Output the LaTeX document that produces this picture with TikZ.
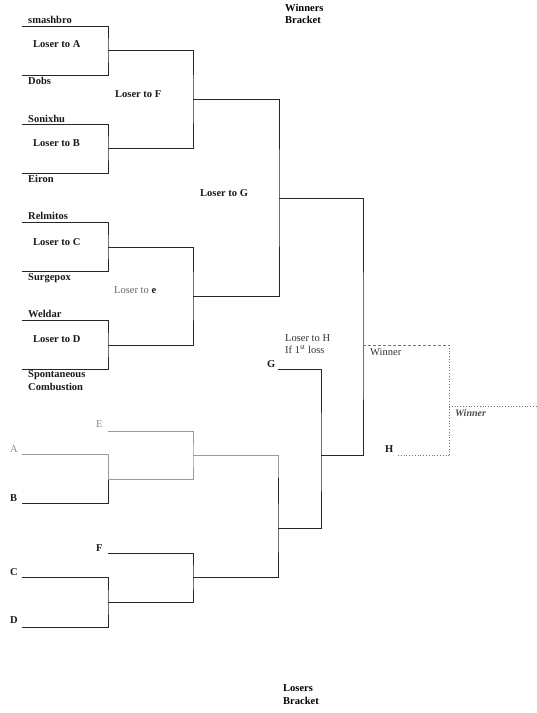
\documentclass[tikz,border=0pt]{standalone}
\usepackage{fontspec}
\setmainfont{Liberation Serif}
\begin{document}
\begin{tikzpicture}[x=1pt,y=-1pt,
  lbl/.style={font=\bfseries\fontsize{10.5}{12}\selectfont, inner sep=0pt, anchor=base west, text=black!90},
  lblr/.style={font=\fontsize{10.5}{12}\selectfont, inner sep=0pt, anchor=base west, text=black!80},
  lblg/.style={font=\fontsize{10.5}{12}\selectfont, inner sep=0pt, anchor=base west, text=black!45},
  title/.style={font=\bfseries\fontsize{10.5}{12}\selectfont, inner sep=0pt, align=left, anchor=north west},
  ln/.style={line width=0.85pt, draw=black!85},
  gl/.style={line width=0.8pt, draw=black!40},
  dl/.style={line width=0.8pt, draw=black!55, dotted},
  dsh/.style={line width=0.8pt, draw=black!55, densely dashed}]
\useasboundingbox (0,0) rectangle (537,713);
\fill[white] (0,0) rectangle (537,713);

% titles
\node[title] (wt) at (285,4) {Winners\\Bracket};
\node[title, font=\bfseries\fontsize{10.5}{13}\selectfont] (lt) at (283,684) {Losers\\Bracket};

% ---------- winners bracket coordinates ----------
\coordinate (p1) at (22,26);  \coordinate (p2) at (22,75);
\coordinate (p3) at (22,124); \coordinate (p4) at (22,173);
\coordinate (p5) at (22,222); \coordinate (p6) at (22,271);
\coordinate (p7) at (22,320); \coordinate (p8) at (22,369);
\coordinate (j1) at (108,50);  \coordinate (j2) at (108,148);
\coordinate (j3) at (108,247); \coordinate (j4) at (108,345);
\coordinate (jF) at (193,99);  \coordinate (jE) at (193,296);
\coordinate (jG) at (279,198);
\coordinate (jW) at (363,345);

\draw[ln] (p1) -| (j1) |- (p2);
\draw[ln] (p3) -| (j2) |- (p4);
\draw[ln] (p5) -| (j3) |- (p6);
\draw[ln] (p7) -| (j4) |- (p8);
\draw[ln] (j1) -| (jF) |- (j2);
\draw[ln] (j3) -| (jE) |- (j4);
\draw[ln] (jF) -| (jG) |- (jE);

% winners labels
\node[lbl] (n1) at (28,23) {smashbro};
\node[lbl] (la) at (33,47) {Loser to A};
\node[lbl] (n2) at (28,84) {Dobs};
\node[lbl] (lf) at (115,97) {Loser to F};
\node[lbl] (n3) at (28,122) {Sonixhu};
\node[lbl] (lb) at (33,146) {Loser to B};
\node[lbl] (n4) at (28,182) {Eiron};
\node[lbl] (lg) at (200,196) {Loser to G};
\node[lbl] (n5) at (28,219) {Relmitos};
\node[lbl] (lc) at (33,245) {Loser to C};
\node[lbl] (n6) at (28,280) {Surgepox};
\node[lbl] (le) at (114,293) {{\mdseries\color{black!60}Loser to} e};
\node[lbl] (n7) at (28,317) {Weldar};
\node[lbl] (ld) at (33,342) {Loser to D};
\node[lbl, font=\bfseries\fontsize{10.5}{13}\selectfont, align=left, anchor=north west] (n8) at (28,370) {Spontaneous\\Combustion};

% ---------- losers bracket ----------
\coordinate (pA) at (22,454); \coordinate (pB) at (22,503);
\coordinate (pC) at (22,577); \coordinate (pD) at (22,627);
\coordinate (pE) at (108,431); \coordinate (pF) at (108,553);
\coordinate (k1) at (108,479); \coordinate (k2) at (108,602);
\coordinate (kE) at (193,455); \coordinate (kF) at (193,577);
\coordinate (k3t) at (278,478); \coordinate (k3) at (278,528);
\coordinate (pG) at (278,369); \coordinate (kH) at (321,455);

\draw[gl] (pA) -| (k1);
\draw[ln] (k1) |- (pB);
\draw[gl] (pE) -| (kE) |- (k1);
\draw[ln] (pC) -| (k2) |- (pD);
\draw[ln] (pF) -| (kF) |- (k2);
\draw[gl] (kE) -| (k3t);
\draw[ln] (k3t) -- (k3) |- (kF);
\draw[ln] (pG) -| (kH) |- (k3);

% final
\draw[ln] (jG) -| (jW) |- (kH);
\coordinate (dW) at (449,345); \coordinate (dH) at (449,455);
\coordinate (pH) at (398,455);
\coordinate (dX) at (449,406); \coordinate (dEnd) at (537,406);
\draw[dsh] (jW) -- (dW);
\draw[dl] (dW) -- (dH);
\draw[dl] (pH) -- (dH);
\draw[dl] (dX) -- (dEnd);

% losers labels
\node[lblg] (tE) at (96,427) {E};
\node[lblg] (tA) at (10,452) {A};
\node[lbl] (tB) at (10,501) {B};
\node[lbl] (tF) at (96,551) {F};
\node[lbl] (tC) at (10,575) {C};
\node[lbl] (tD) at (10,623) {D};
\node[lbl] (tG) at (267,367) {G};
\node[lblr, font=\fontsize{10.5}{12.5}\selectfont, align=left, anchor=north west] (lh) at (285,334) {Loser to H\\If 1\textsuperscript{st} loss};
\node[lblr] (tw) at (370,355) {Winner};
\node[lbl] (tH) at (385,452) {H};
\node[lbl, font=\bfseries\itshape\fontsize{10}{12}\selectfont, text=black!70] (tw2) at (455,416) {Winner};
\end{tikzpicture}
\end{document}
